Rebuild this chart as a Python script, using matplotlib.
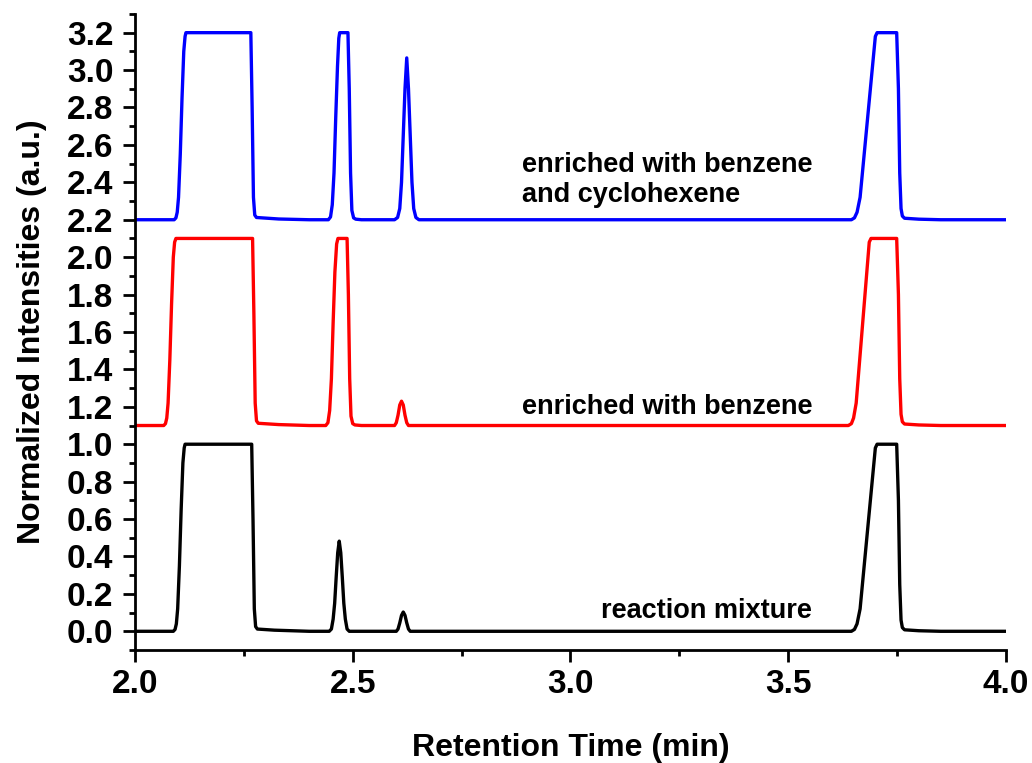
import numpy as np
import matplotlib.pyplot as plt
from matplotlib.ticker import MultipleLocator

plt.rcParams['font.family'] = ['Liberation Sans', 'DejaVu Sans']
plt.rcParams['font.weight'] = 'bold'

# retention times (min) and normalized intensities
# reaction mixture (offset 0.0)
mix_t = [2.000, 2.088,
         2.092, 2.095, 2.098, 2.102, 2.106, 2.110, 2.113, 2.115,
         2.268, 2.271, 2.274, 2.277, 2.281, 2.320, 2.400,
         2.446, 2.451, 2.455, 2.4585, 2.462, 2.4655, 2.469, 2.4725, 2.476, 2.4795, 2.483, 2.487, 2.492,
         2.600, 2.604, 2.608, 2.612, 2.616, 2.620, 2.624, 2.628, 2.632,
         3.645, 3.652, 3.658, 3.665, 3.700, 3.704,
         3.749, 3.753, 3.756, 3.759, 3.762, 3.767, 3.800, 3.850, 4.000]
mix_y = [0.000, 0.000,
         0.010, 0.040, 0.120, 0.350, 0.650, 0.900, 0.980, 1.000,
         1.000, 0.600, 0.120, 0.025, 0.012, 0.006, 0.000,
         0.000, 0.012, 0.065, 0.150, 0.290, 0.420, 0.482, 0.420, 0.290, 0.150, 0.065, 0.012, 0.000,
         0.000, 0.012, 0.045, 0.085, 0.103, 0.085, 0.045, 0.012, 0.000,
         0.000, 0.010, 0.040, 0.120, 0.980, 1.000,
         1.000, 0.700, 0.250, 0.060, 0.020, 0.008, 0.003, 0.000, 0.000]

# enriched with benzene (offset 1.1)
benz_t = [2.000, 2.066,
          2.070, 2.073, 2.076, 2.080, 2.084, 2.088, 2.091, 2.094,
          2.270, 2.273, 2.276, 2.279, 2.283, 2.330, 2.400,
          2.438, 2.443, 2.447, 2.451, 2.455, 2.459, 2.463, 2.466,
          2.487, 2.490, 2.493, 2.496, 2.500, 2.505, 2.520,
          2.596, 2.600, 2.604, 2.608, 2.612, 2.616, 2.620, 2.624, 2.628,
          3.638, 3.645, 3.650, 3.656, 3.686, 3.690,
          3.749, 3.753, 3.756, 3.759, 3.762, 3.767, 3.800, 3.850, 4.000]
benz_y = [0.000, 0.000,
          0.010, 0.040, 0.120, 0.350, 0.650, 0.900, 0.980, 1.000,
          1.000, 0.600, 0.120, 0.025, 0.012, 0.005, 0.000,
          0.000, 0.015, 0.080, 0.250, 0.550, 0.820, 0.970, 1.000,
          1.000, 0.700, 0.250, 0.050, 0.010, 0.003, 0.000,
          0.000, 0.015, 0.055, 0.110, 0.130, 0.110, 0.055, 0.015, 0.000,
          0.000, 0.010, 0.040, 0.120, 0.980, 1.000,
          1.000, 0.700, 0.250, 0.060, 0.020, 0.008, 0.003, 0.000, 0.000]

# enriched with benzene and cyclohexene (offset 2.2)
cyc_t = [2.000, 2.090,
         2.094, 2.097, 2.100, 2.104, 2.108, 2.112, 2.115, 2.117,
         2.266, 2.269, 2.272, 2.275, 2.279, 2.330, 2.400,
         2.444, 2.449, 2.453, 2.457, 2.461, 2.465, 2.468, 2.470,
         2.489, 2.492, 2.495, 2.498, 2.502, 2.507, 2.520,
         2.596, 2.603, 2.608, 2.612, 2.616, 2.620, 2.624, 2.628, 2.632, 2.636, 2.640, 2.645, 2.652,
         3.645, 3.652, 3.658, 3.665, 3.700, 3.704,
         3.749, 3.753, 3.756, 3.759, 3.762, 3.767, 3.800, 3.850, 4.000]
cyc_y = [0.000, 0.000,
         0.010, 0.040, 0.120, 0.350, 0.650, 0.900, 0.980, 1.000,
         1.000, 0.600, 0.120, 0.025, 0.012, 0.004, 0.000,
         0.000, 0.015, 0.080, 0.250, 0.550, 0.820, 0.970, 1.000,
         1.000, 0.700, 0.250, 0.050, 0.010, 0.003, 0.000,
         0.000, 0.012, 0.060, 0.200, 0.450, 0.700, 0.865, 0.700, 0.450, 0.200, 0.060, 0.012, 0.000,
         0.000, 0.010, 0.040, 0.120, 0.980, 1.000,
         1.000, 0.700, 0.250, 0.060, 0.020, 0.008, 0.003, 0.000, 0.000]

offsets = [0.0, 1.1, 2.2]
colors = ['black', 'red', 'blue']
labels = ['reaction mixture', 'enriched with benzene',
          'enriched with benzene\nand cyclohexene']
label_pos = [(3.070, 0.107), (2.889, 1.197), (2.889, 2.41)]

fig = plt.figure(figsize=(10.32, 7.63), dpi=100)
ax = fig.add_axes([0.1308, 0.1481, 0.8440, 0.8336])

for t, y, off, c in zip([mix_t, benz_t, cyc_t], [mix_y, benz_y, cyc_y], offsets, colors):
    ax.plot(t, np.array(y) + off, color=c, lw=2.4, solid_joinstyle='round')

for lab, (lx, ly) in zip(labels, label_pos):
    ax.text(lx, ly, lab, fontsize=19.5, fontweight='bold', ha='left', va='center',
            linespacing=1.2)

ax.set_xlim(2.0, 4.0)
ax.set_ylim(-0.1, 3.3)
ax.xaxis.set_major_locator(MultipleLocator(0.5))
ax.xaxis.set_minor_locator(MultipleLocator(0.25))
ax.yaxis.set_minor_locator(MultipleLocator(0.1))
ax.set_yticks(np.arange(0, 3.21, 0.2))

ax.spines['top'].set_visible(False)
ax.spines['right'].set_visible(False)
for s in ['left', 'bottom']:
    ax.spines[s].set_linewidth(2)

ax.tick_params(which='major', direction='out', length=8.6, width=2, labelsize=24, pad=5)
ax.tick_params(which='minor', direction='out', length=4.3, width=2)
ax.tick_params(axis='y', which='major', pad=7)
for lab in ax.get_xticklabels() + ax.get_yticklabels():
    lab.set_fontweight('bold')

ax.set_xlabel('Retention Time (min)', fontsize=23, fontweight='bold', labelpad=24)
ax.set_ylabel('Normalized Intensities (a.u.)', fontsize=23, fontweight='bold', labelpad=14)

plt.savefig('out.png', dpi=100)
